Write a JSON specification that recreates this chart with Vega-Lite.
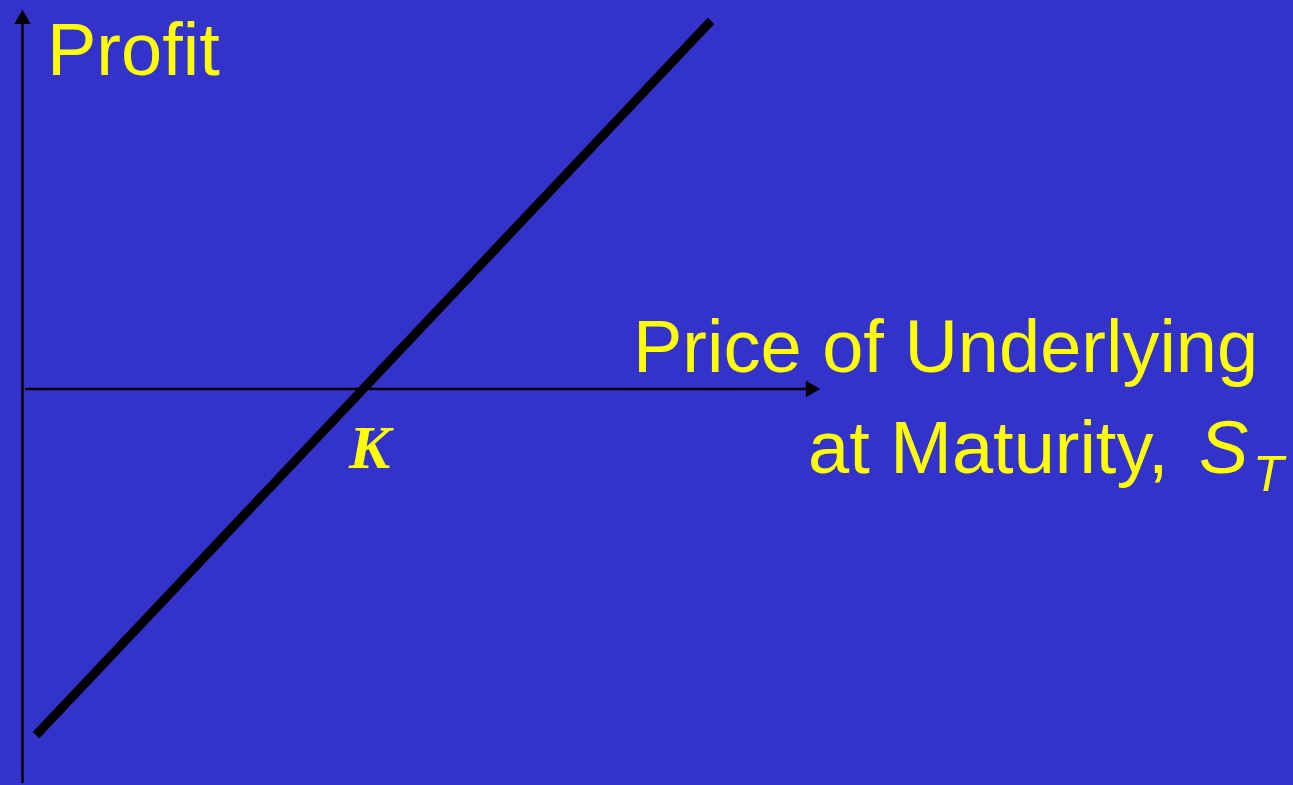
{
  "$schema": "https://vega.github.io/schema/vega-lite/v6.json",
  "width": 1293,
  "height": 785,
  "autosize": {"type": "fit", "contains": "padding"},
  "padding": 0,
  "background": "#3333CC",
  "config": {"view": {"stroke": null}},
  "datasets": {
    "payoff": [
      {"price": 36, "profit": -347},
      {"price": 711, "profit": 369}
    ],
    "axes": [
      {"axis": "profit", "x1": 22.5, "y1": -395, "x2": 22.5, "y2": 372},
      {"axis": "price", "x1": 25, "y1": 0, "x2": 808, "y2": 0}
    ],
    "arrows": [
      {"axis": "profit", "price": 22.5, "profit": 373, "shape": "triangle-up"},
      {"axis": "price", "price": 813, "profit": 0, "shape": "triangle-right"}
    ],
    "labels": [
      {"id": "profit", "text": "Profit", "price": 47, "profit": 315},
      {"id": "price1", "text": "Price of Underlying", "price": 633, "profit": 17},
      {"id": "price2", "text": "at Maturity,", "price": 808, "profit": -84}
    ],
    "italic": [
      {"text": "S", "price": 1199, "profit": -84, "size": 74},
      {"text": "T", "price": 1253, "profit": -102, "size": 50}
    ],
    "strike": [
      {"text": "K", "price": 349, "profit": -79}
    ]
  },
  "layer": [
    {
      "data": {"name": "axes"},
      "mark": {"type": "rule", "color": "black", "strokeWidth": 2.5},
      "encoding": {
        "x": {"field": "x1", "type": "quantitative", "scale": {"domain": [0, 1293], "nice": false, "zero": false}, "axis": null},
        "y": {"field": "y1", "type": "quantitative", "scale": {"domain": [-395, 390], "nice": false, "zero": false}, "axis": null},
        "x2": {"field": "x2"},
        "y2": {"field": "y2"}
      }
    },
    {
      "data": {"name": "arrows"},
      "mark": {"type": "point", "filled": true, "color": "black", "opacity": 1, "size": 270},
      "encoding": {
        "x": {"field": "price", "type": "quantitative"},
        "y": {"field": "profit", "type": "quantitative"},
        "shape": {"field": "shape", "type": "nominal", "scale": null, "legend": null}
      }
    },
    {
      "data": {"name": "payoff"},
      "mark": {"type": "line", "color": "black", "strokeWidth": 9, "strokeCap": "butt"},
      "encoding": {
        "x": {"field": "price", "type": "quantitative"},
        "y": {"field": "profit", "type": "quantitative"}
      }
    },
    {
      "data": {"name": "labels"},
      "mark": {"type": "text", "font": "Liberation Sans", "fontSize": 74, "color": "#FFFF00", "align": "left", "baseline": "alphabetic"},
      "encoding": {
        "x": {"field": "price", "type": "quantitative"},
        "y": {"field": "profit", "type": "quantitative"},
        "text": {"field": "text"}
      }
    },
    {
      "data": {"name": "italic"},
      "mark": {"type": "text", "font": "Liberation Sans", "fontStyle": "italic", "color": "#FFFF00", "align": "left", "baseline": "alphabetic"},
      "encoding": {
        "x": {"field": "price", "type": "quantitative"},
        "y": {"field": "profit", "type": "quantitative"},
        "text": {"field": "text"},
        "size": {"field": "size", "type": "quantitative", "scale": null, "legend": null}
      }
    },
    {
      "data": {"name": "strike"},
      "mark": {"type": "text", "font": "Liberation Serif", "fontSize": 62, "fontStyle": "italic", "fontWeight": "bold", "color": "#FFFF00", "align": "left", "baseline": "alphabetic"},
      "encoding": {
        "x": {"field": "price", "type": "quantitative"},
        "y": {"field": "profit", "type": "quantitative"},
        "text": {"field": "text"}
      }
    }
  ]
}
